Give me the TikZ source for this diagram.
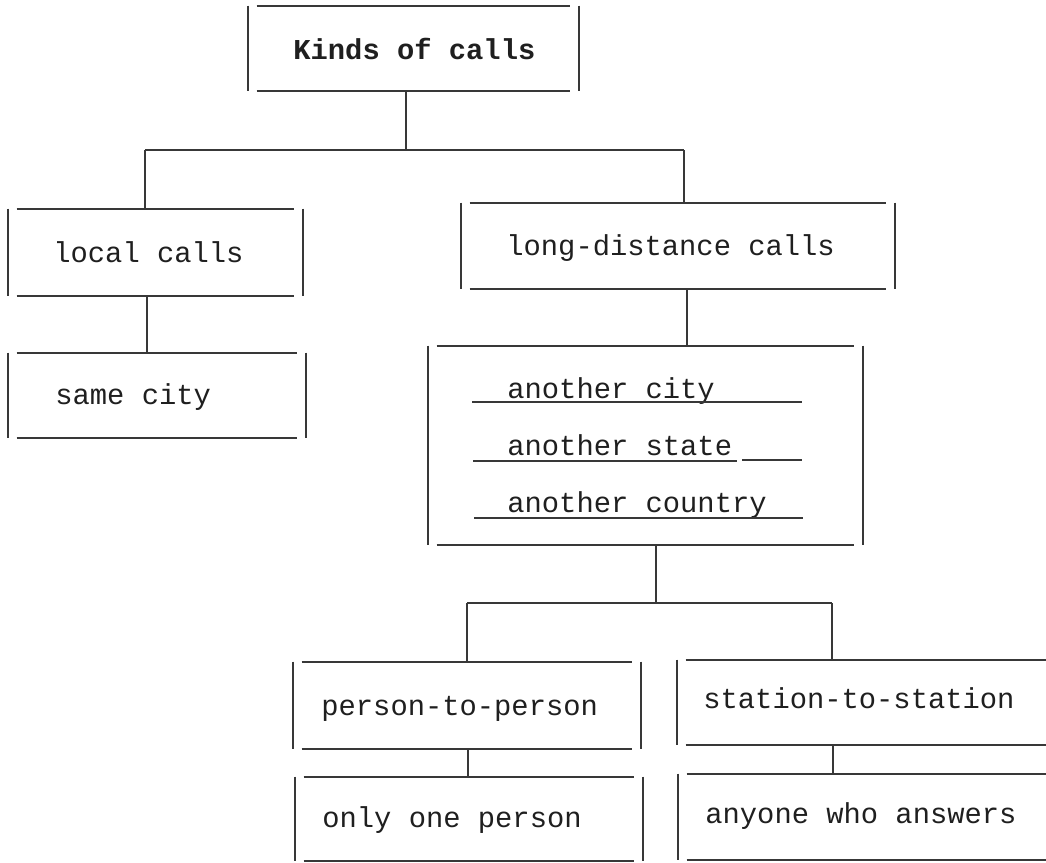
\documentclass[tikz,border=0pt]{standalone}
\usepackage{fontspec}
\setmonofont{Liberation Mono}
\usetikzlibrary{fit}

% typed box: rules above and below, side rules set a little outside
\newcommand{\tbox}[5]{%
  \node[fit={(#2,#3) (#4,#5)}, inner sep=0pt] (#1) {};
  \draw[rule] (#1.north west) -- (#1.north east);
  \draw[rule] (#1.south west) -- (#1.south east);
  \draw[rule] ([xshift=-4.5pt]#1.north west) -- ([xshift=-4.5pt]#1.south west);
  \draw[rule] ([xshift=4.5pt]#1.north east) -- ([xshift=4.5pt]#1.south east);
}
% same box, running off the right edge of the page
\newcommand{\obox}[5]{%
  \node[fit={(#2,#3) (#4,#5)}, inner sep=0pt] (#1) {};
  \draw[rule] (#1.north west) -- (#1.north east);
  \draw[rule] (#1.south west) -- (#1.south east);
  \draw[rule] ([xshift=-4.5pt]#1.north west) -- ([xshift=-4.5pt]#1.south west);
}

\begin{document}
\begin{tikzpicture}[
    x=0.5pt,
    y=-0.5pt,
    rule/.style={line width=1pt, black!78},
    wire/.style={line width=1pt, black!78},
    txt/.style={font=\ttfamily\fontsize{14.4}{17}\selectfont, text=black!88, inner sep=0pt, anchor=base west},
    head/.style={txt, font=\ttfamily\bfseries\fontsize{14.4}{17}\selectfont}
]

\fill[white] (0,0) rectangle (1046,863);
\useasboundingbox (0,0) rectangle (1046,863);

% =========================
% Top
% =========================
\tbox{kinds}{257}{6}{570}{91}
\node[head] (kindsTxt) at (293,59) {Kinds of calls};

\coordinate (fkA) at (145,150);
\coordinate (fkB) at (684,150);
\draw[wire] (kinds.south -| 406,0) -- (406,150);
\draw[wire] (fkA) -- (fkB);

% =========================
% Local calls
% =========================
\tbox{local}{17}{209}{294}{296}
\node[txt] (localTxt) at (53,262) {local calls};

\tbox{same}{17}{353}{297}{438}
\node[txt] (sameTxt) at (55,404) {same city};

\draw[wire] (fkA) -- (local.north -| fkA);
\draw[wire] (local.south -| 147,0) -- (same.north -| 147,0);

% =========================
% Long-distance calls
% =========================
\tbox{long}{470}{203}{886}{289}
\node[txt] (longTxt) at (506,255) {long-distance calls};

\tbox{other}{437}{346}{854}{545}
\node[txt] (cityTxt)    at (507,398) {another city};
\node[txt] (stateTxt)   at (507,455) {another state};
\node[txt] (countryTxt) at (507,512) {another country};

% lines under the entries
\draw[rule] (472,402) -- (802,402);
\draw[rule] (473,461) -- (737,461);
\draw[rule] (742,460) -- (802,460);
\draw[rule] (474,518) -- (803,518);

\draw[wire] (fkB) -- (long.north -| fkB);
\draw[wire] (long.south -| 687,0) -- (other.north -| 687,0);

% =========================
% Kinds of long-distance calls
% =========================
\coordinate (fkC) at (467,603);
\coordinate (fkD) at (832,603);
\draw[wire] (other.south -| 656,0) -- (656,603);
\draw[wire] (fkC) -- (fkD);

\tbox{person}{302}{662}{632}{749}
\node[txt] (personTxt) at (321,715) {person-to-person};

\tbox{only}{304}{777}{634}{861}
\node[txt] (onlyTxt) at (322,827) {only one person};

\obox{station}{686}{660}{1046}{745}
\node[txt] (stationTxt) at (703,708) {station-to-station};

\obox{anyone}{687}{774}{1046}{860}
\node[txt] (anyoneTxt) at (705,823) {anyone who answers};

\draw[wire] (fkC) -- (person.north -| fkC);
\draw[wire] (fkD) -- (station.north -| fkD);
\draw[wire] (person.south -| 468,0) -- (only.north -| 468,0);
\draw[wire] (station.south -| 833,0) -- (anyone.north -| 833,0);

\end{tikzpicture}
\end{document}
